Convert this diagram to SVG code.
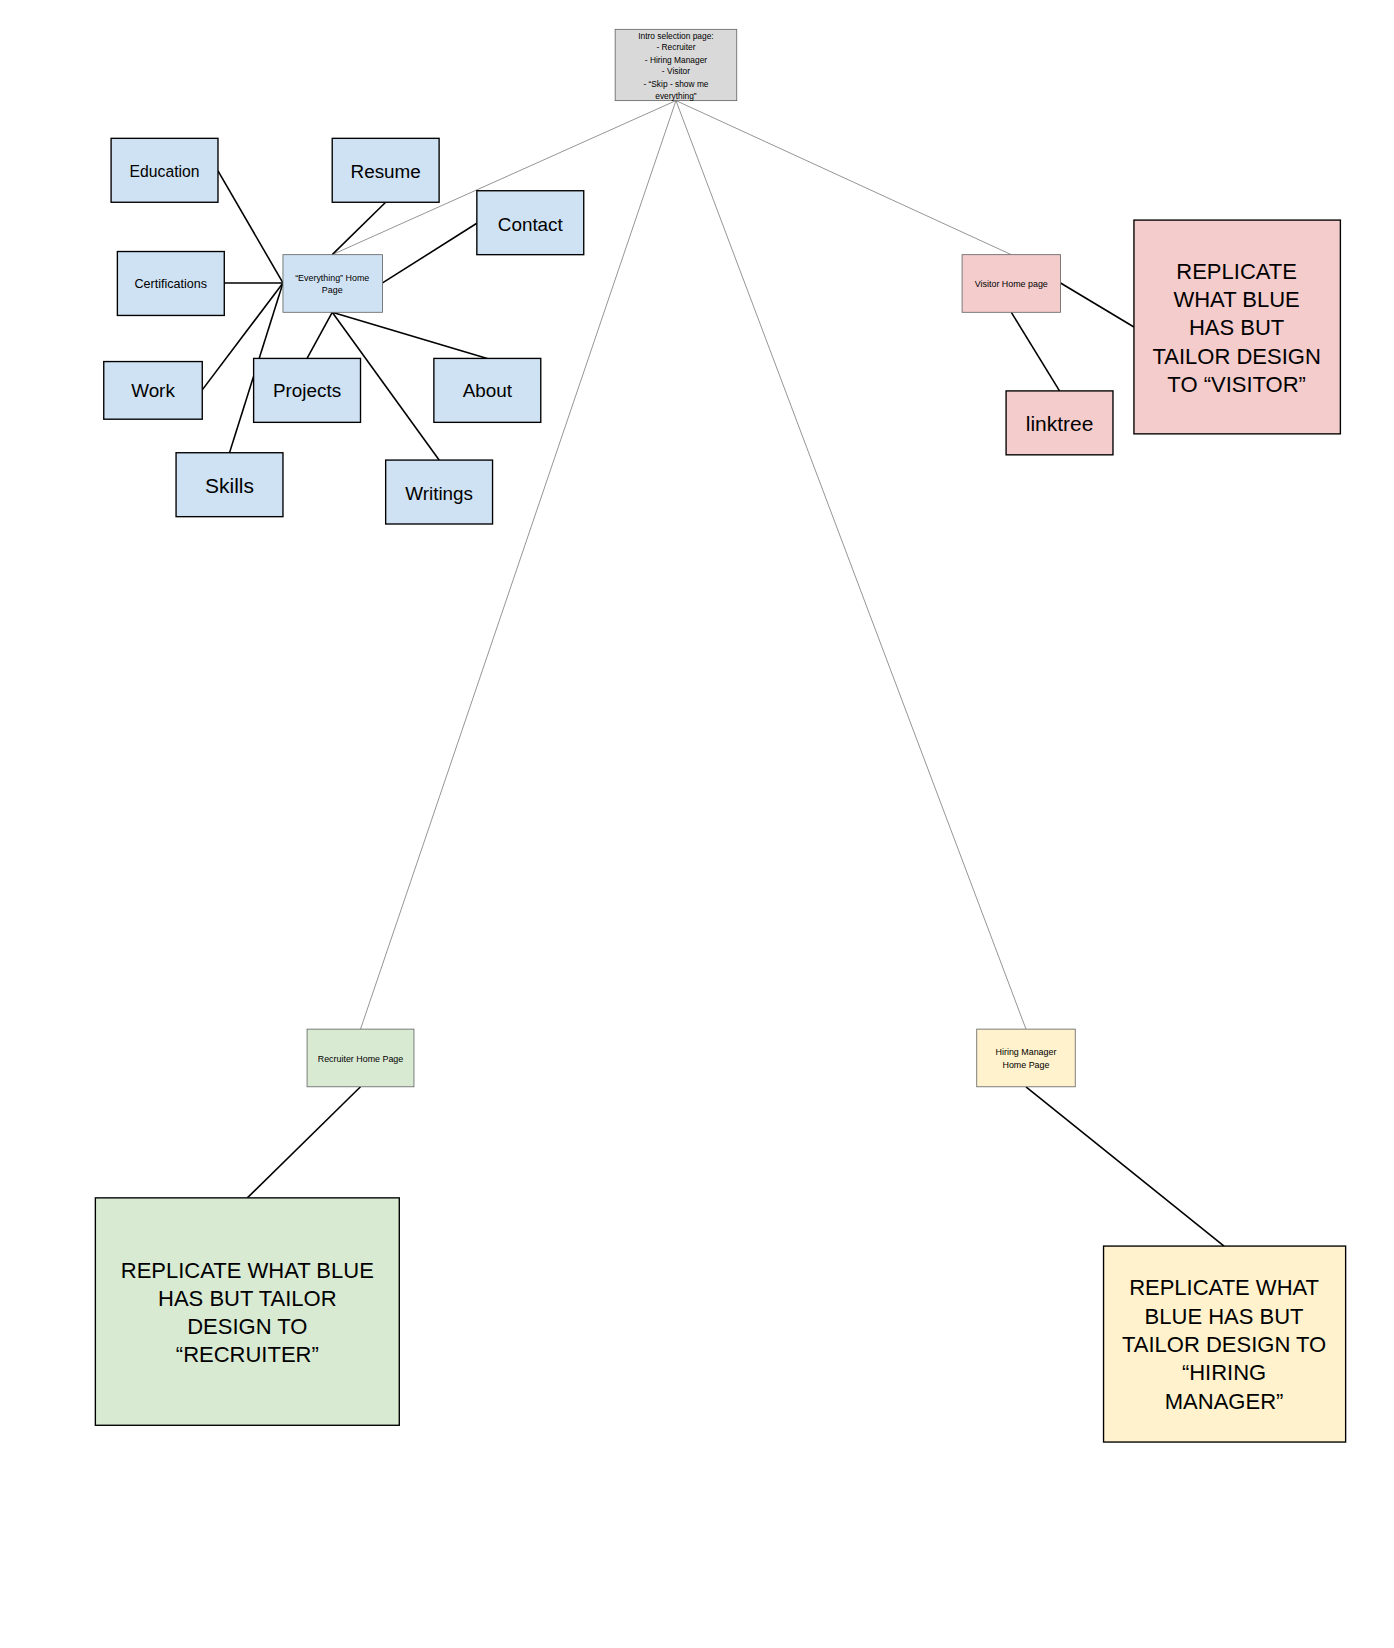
<svg xmlns="http://www.w3.org/2000/svg" width="1394" height="1648" viewBox="0 0 1394 1648">
<style>
text{font-family:"Liberation Sans",Arial,sans-serif;fill:#000;text-anchor:middle}
.n rect{stroke:#000;stroke-width:1.3}
.b rect{fill:#cfe2f3}.p rect{fill:#f4cccc}.g rect{fill:#d9ead3}.y rect{fill:#fff2cc}
.t rect{stroke:#666;stroke-width:0.8}
.thin line{stroke:#555;stroke-width:0.6}
.thick line{stroke:#000;stroke-width:1.5}
</style>
<rect width="1394" height="1648" fill="#fff"/>
<g transform="scale(1.048)">
<g id="connectors">
<g class="thin">
<line x1="645" y1="96" x2="317" y2="243"/>
<line x1="645" y1="96" x2="965" y2="243"/>
<line x1="645" y1="96" x2="344" y2="982"/>
<line x1="645" y1="96" x2="979" y2="982"/>
</g>
<g class="thick">
<line x1="208" y1="163" x2="270" y2="270"/>
<line x1="368" y1="193" x2="317" y2="243"/>
<line x1="455" y1="213" x2="365" y2="270"/>
<line x1="214" y1="270" x2="270" y2="270"/>
<line x1="193" y1="372" x2="270" y2="270"/>
<line x1="219" y1="432" x2="270" y2="270"/>
<line x1="293" y1="342" x2="317" y2="298"/>
<line x1="465" y1="342" x2="317" y2="298"/>
<line x1="419" y1="439" x2="317" y2="298"/>
<line x1="1012" y1="270" x2="1082" y2="312"/>
<line x1="965" y1="298" x2="1011" y2="373"/>
<line x1="344" y1="1037" x2="236" y2="1143"/>
<line x1="979" y1="1037" x2="1168" y2="1189"/>
</g>
</g>
<g id="intro" class="t"><rect x="587" y="28" width="116" height="68" fill="#d9d9d9"/>
<text font-size="8"><tspan x="645" y="37">Intro selection page:</tspan><tspan x="645" y="48">- Recruiter</tspan><tspan x="645" y="60">- Hiring Manager</tspan><tspan x="645" y="71">- Visitor</tspan><tspan x="645" y="83">- “Skip - show me</tspan><tspan x="645" y="94">everything”</tspan></text></g>
<g id="everything" class="b t"><rect x="270" y="243" width="95" height="55"/><text font-size="8.5"><tspan x="317" y="268">“Everything” Home</tspan><tspan x="317" y="280">Page</tspan></text></g>
<g id="education" class="n b"><rect x="106" y="132" width="102" height="61"/><text x="157" y="169" font-size="15">Education</text></g>
<g id="resume" class="n b"><rect x="317" y="132" width="102" height="61"/><text x="368" y="170" font-size="18">Resume</text></g>
<g id="contact" class="n b"><rect x="455" y="182" width="102" height="61"/><text x="506" y="220" font-size="18">Contact</text></g>
<g id="certifications" class="n b"><rect x="112" y="240" width="102" height="61"/><text x="163" y="275" font-size="12">Certifications</text></g>
<g id="work" class="n b"><rect x="99" y="345" width="94" height="55"/><text x="146" y="379" font-size="18">Work</text></g>
<g id="projects" class="n b"><rect x="242" y="342" width="102" height="61"/><text x="293" y="379" font-size="18">Projects</text></g>
<g id="about" class="n b"><rect x="414" y="342" width="102" height="61"/><text x="465" y="379" font-size="18">About</text></g>
<g id="skills" class="n b"><rect x="168" y="432" width="102" height="61"/><text x="219" y="470" font-size="20">Skills</text></g>
<g id="writings" class="n b"><rect x="368" y="439" width="102" height="61"/><text x="419" y="477" font-size="18">Writings</text></g>
<g id="visitor" class="p t"><rect x="918" y="243" width="94" height="55"/><text x="965" y="274" font-size="8.5">Visitor Home page</text></g>
<g id="visitor-note" class="n p"><rect x="1082" y="210" width="197" height="204"/><text font-size="21"><tspan x="1180" y="266">REPLICATE</tspan><tspan x="1180" y="293">WHAT BLUE</tspan><tspan x="1180" y="320">HAS BUT</tspan><tspan x="1180" y="347">TAILOR DESIGN</tspan><tspan x="1180" y="374">TO “VISITOR”</tspan></text></g>
<g id="linktree" class="n p"><rect x="960" y="373" width="102" height="61"/><text x="1011" y="411" font-size="20">linktree</text></g>
<g id="recruiter" class="g t"><rect x="293" y="982" width="102" height="55"/><text x="344" y="1013" font-size="8.5">Recruiter Home Page</text></g>
<g id="recruiter-note" class="n g"><rect x="91" y="1143" width="290" height="217"/><text font-size="21"><tspan x="236" y="1219">REPLICATE WHAT BLUE</tspan><tspan x="236" y="1246">HAS BUT TAILOR</tspan><tspan x="236" y="1273">DESIGN TO</tspan><tspan x="236" y="1300">“RECRUITER”</tspan></text></g>
<g id="hiring" class="y t"><rect x="932" y="982" width="94" height="55"/><text font-size="8.5"><tspan x="979" y="1007">Hiring Manager</tspan><tspan x="979" y="1019">Home Page</tspan></text></g>
<g id="hiring-note" class="n y"><rect x="1053" y="1189" width="231" height="187"/><text font-size="21"><tspan x="1168" y="1236">REPLICATE WHAT</tspan><tspan x="1168" y="1263">BLUE HAS BUT</tspan><tspan x="1168" y="1290">TAILOR DESIGN TO</tspan><tspan x="1168" y="1317">“HIRING</tspan><tspan x="1168" y="1344">MANAGER”</tspan></text></g>
</g>
</svg>
